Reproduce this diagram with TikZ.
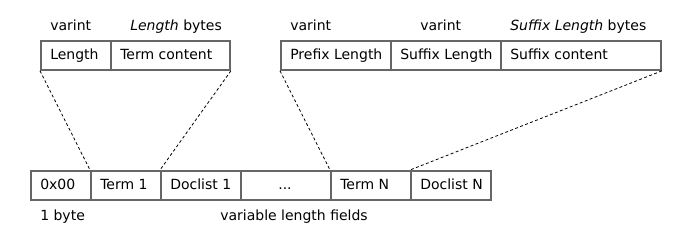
\documentclass[tikz,border=0pt]{standalone}
\usepackage{fontspec}
\setmainfont{DejaVu Sans}
\begin{document}
\begin{tikzpicture}[x=0.75pt,y=-0.75pt,
  cell/.style={draw=black!60,line width=1.4pt,inner sep=0pt,anchor=north west,minimum height=29*0.75pt},
  celltxt/.style={inner sep=0pt,anchor=base west},
  lbl/.style={inner sep=0pt,anchor=base west},
  zoomline/.style={draw=black,line width=0.6pt,dash pattern=on 2.2pt off 1.8pt},
  every node/.style={font=\fontsize{10.5}{12}\selectfont}]
\useasboundingbox (0,0) rectangle (700,240);
% top left box
\node[cell,minimum width=70*0.75pt] (tl1) at (40,40) {};
\node[cell,minimum width=119*0.75pt] (tl2) at (110,40) {};
\node[celltxt] (tl1t) at (50,59.5) {Length};
\node[celltxt] (tl2t) at (120,59.5) {Term content};
\node[lbl] (tlv) at (50,30) {varint};
\node[lbl] (tlb) at (130,30) {\textit{Length} bytes};
% top right box
\node[cell,minimum width=110*0.75pt] (tr1) at (280,40) {};
\node[cell,minimum width=110*0.75pt] (tr2) at (390,40) {};
\node[cell,minimum width=160*0.75pt] (tr3) at (500,40) {};
\node[celltxt] (tr1t) at (290,59.5) {Prefix Length};
\node[celltxt] (tr2t) at (400,59.5) {Suffix Length};
\node[celltxt] (tr3t) at (510,59.5) {Suffix content};
\node[lbl] (trv1) at (290,30) {varint};
\node[lbl] (trv2) at (420,30) {varint};
\node[lbl] (trb) at (510,30) {\textit{Suffix Length} bytes};
% bottom box
\node[cell,minimum width=60*0.75pt] (b1) at (30,170) {};
\node[cell,minimum width=70*0.75pt] (b2) at (90,170) {};
\node[cell,minimum width=80*0.75pt] (b3) at (160,170) {};
\node[cell,minimum width=90*0.75pt] (b4) at (240,170) {};
\node[cell,minimum width=80*0.75pt] (b5) at (330,170) {};
\node[cell,minimum width=80*0.75pt] (b6) at (410,170) {};
\node[celltxt] (b1t) at (40,189.5) {0x00};
\node[celltxt] (b2t) at (100,189.5) {Term 1};
\node[celltxt] (b3t) at (170,189.5) {Doclist 1};
\node[inner sep=0pt,anchor=base] (b4t) at (285,189.5) {...};
\node[celltxt] (b5t) at (340,189.5) {Term N};
\node[celltxt] (b6t) at (420,189.5) {Doclist N};
\node[lbl] (l1) at (40,220) {1 byte};
\node[lbl] (l2) at (220,220) {variable length fields};
% zoom lines
\draw[zoomline] (tl1.south west) -- (b2.north west);
\draw[zoomline] (tl2.south east) -- (b3.north west);
\draw[zoomline] (tr1.south west) -- (b5.north west);
\draw[zoomline] (tr3.south east) -- (b6.north west);
\end{tikzpicture}
\end{document}
